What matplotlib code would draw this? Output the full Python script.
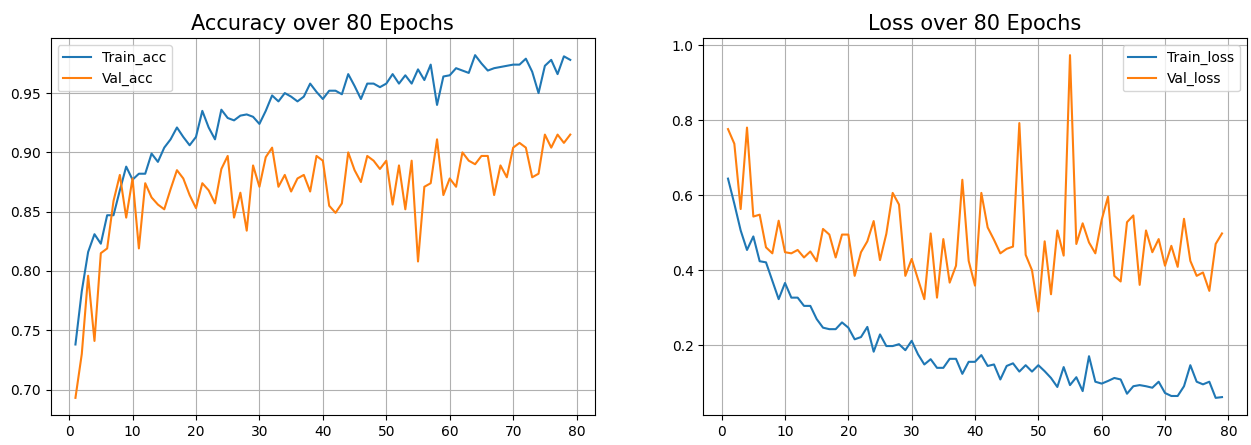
import matplotlib
matplotlib.use("Agg")
import matplotlib.pyplot as plt
import numpy as np

epochs = list(range(1, 80))

train_acc = [0.738, 0.783, 0.816, 0.831, 0.823, 0.847, 0.847, 0.868, 0.888, 0.877,
             0.882, 0.882, 0.899, 0.892, 0.904, 0.911, 0.921, 0.913, 0.906, 0.913,
             0.935, 0.921, 0.911, 0.936, 0.929, 0.927, 0.931, 0.932, 0.930, 0.924,
             0.935, 0.948, 0.943, 0.950, 0.947, 0.943, 0.947, 0.958, 0.951, 0.945,
             0.952, 0.952, 0.949, 0.966, 0.956, 0.945, 0.958, 0.958, 0.955, 0.958,
             0.966, 0.958, 0.965, 0.958, 0.970, 0.961, 0.974, 0.940, 0.964, 0.965,
             0.971, 0.969, 0.967, 0.982, 0.975, 0.969, 0.971, 0.972, 0.973, 0.974,
             0.974, 0.979, 0.968, 0.950, 0.973, 0.978, 0.966, 0.981, 0.978]

val_acc = [0.693, 0.730, 0.796, 0.741, 0.815, 0.819, 0.859, 0.881, 0.845, 0.878,
           0.819, 0.874, 0.862, 0.856, 0.852, 0.869, 0.885, 0.878, 0.864, 0.853,
           0.874, 0.868, 0.857, 0.886, 0.897, 0.845, 0.866, 0.834, 0.889, 0.871,
           0.896, 0.904, 0.871, 0.881, 0.867, 0.878, 0.881, 0.867, 0.897, 0.893,
           0.855, 0.849, 0.857, 0.900, 0.885, 0.875, 0.897, 0.893, 0.886, 0.893,
           0.856, 0.889, 0.852, 0.893, 0.808, 0.871, 0.874, 0.911, 0.864, 0.878,
           0.871, 0.900, 0.893, 0.890, 0.897, 0.897, 0.864, 0.889, 0.879, 0.904,
           0.908, 0.904, 0.879, 0.882, 0.915, 0.904, 0.915, 0.908, 0.915]

train_loss = [0.644, 0.577, 0.506, 0.454, 0.490, 0.424, 0.421, 0.372, 0.323, 0.366,
              0.327, 0.327, 0.305, 0.305, 0.270, 0.247, 0.243, 0.243, 0.261, 0.247,
              0.216, 0.222, 0.249, 0.183, 0.229, 0.198, 0.198, 0.203, 0.187, 0.212,
              0.176, 0.149, 0.163, 0.140, 0.140, 0.164, 0.164, 0.124, 0.156, 0.156,
              0.174, 0.145, 0.149, 0.109, 0.145, 0.152, 0.130, 0.147, 0.130, 0.147,
              0.131, 0.113, 0.089, 0.142, 0.094, 0.115, 0.078, 0.171, 0.103, 0.098,
              0.105, 0.113, 0.109, 0.071, 0.091, 0.094, 0.091, 0.087, 0.103, 0.073,
              0.065, 0.065, 0.091, 0.147, 0.103, 0.096, 0.103, 0.060, 0.062]

val_loss = [0.776, 0.737, 0.563, 0.780, 0.543, 0.548, 0.461, 0.445, 0.532, 0.448,
            0.445, 0.454, 0.434, 0.450, 0.424, 0.510, 0.495, 0.434, 0.495, 0.495,
            0.385, 0.448, 0.477, 0.531, 0.427, 0.497, 0.606, 0.575, 0.385, 0.430,
            0.376, 0.323, 0.498, 0.327, 0.483, 0.367, 0.412, 0.641, 0.425, 0.359,
            0.606, 0.514, 0.481, 0.445, 0.457, 0.463, 0.792, 0.441, 0.400, 0.290,
            0.477, 0.336, 0.506, 0.439, 0.973, 0.470, 0.525, 0.474, 0.445, 0.534,
            0.596, 0.385, 0.370, 0.528, 0.546, 0.361, 0.506, 0.448, 0.483, 0.412,
            0.465, 0.409, 0.537, 0.425, 0.385, 0.394, 0.345, 0.470, 0.498]

W, H = 1251, 445
fig = plt.figure(figsize=(W / 100, H / 100), dpi=100)
ax1 = fig.add_axes([50.7 / W, 30 / H, (595 - 50.7) / W, 377 / H])
ax2 = fig.add_axes([703.3 / W, 30 / H, (1246.7 - 703.3) / W, 377 / H])

ax1.plot(epochs, train_acc, label="Train_acc")
ax1.plot(epochs, val_acc, label="Val_acc")
ax1.set_title("Accuracy over 80 Epochs", fontsize=15)
ax1.grid(True)
ax1.legend(loc="upper left", fontsize=10)
ax1.tick_params(labelsize=10)

ax2.plot(epochs, train_loss, label="Train_loss")
ax2.plot(epochs, val_loss, label="Val_loss")
ax2.set_title("Loss over 80 Epochs", fontsize=15)
ax2.grid(True)
ax2.legend(loc="upper right", fontsize=10)
ax2.tick_params(labelsize=10)

fig.savefig("out.png", dpi=100)
